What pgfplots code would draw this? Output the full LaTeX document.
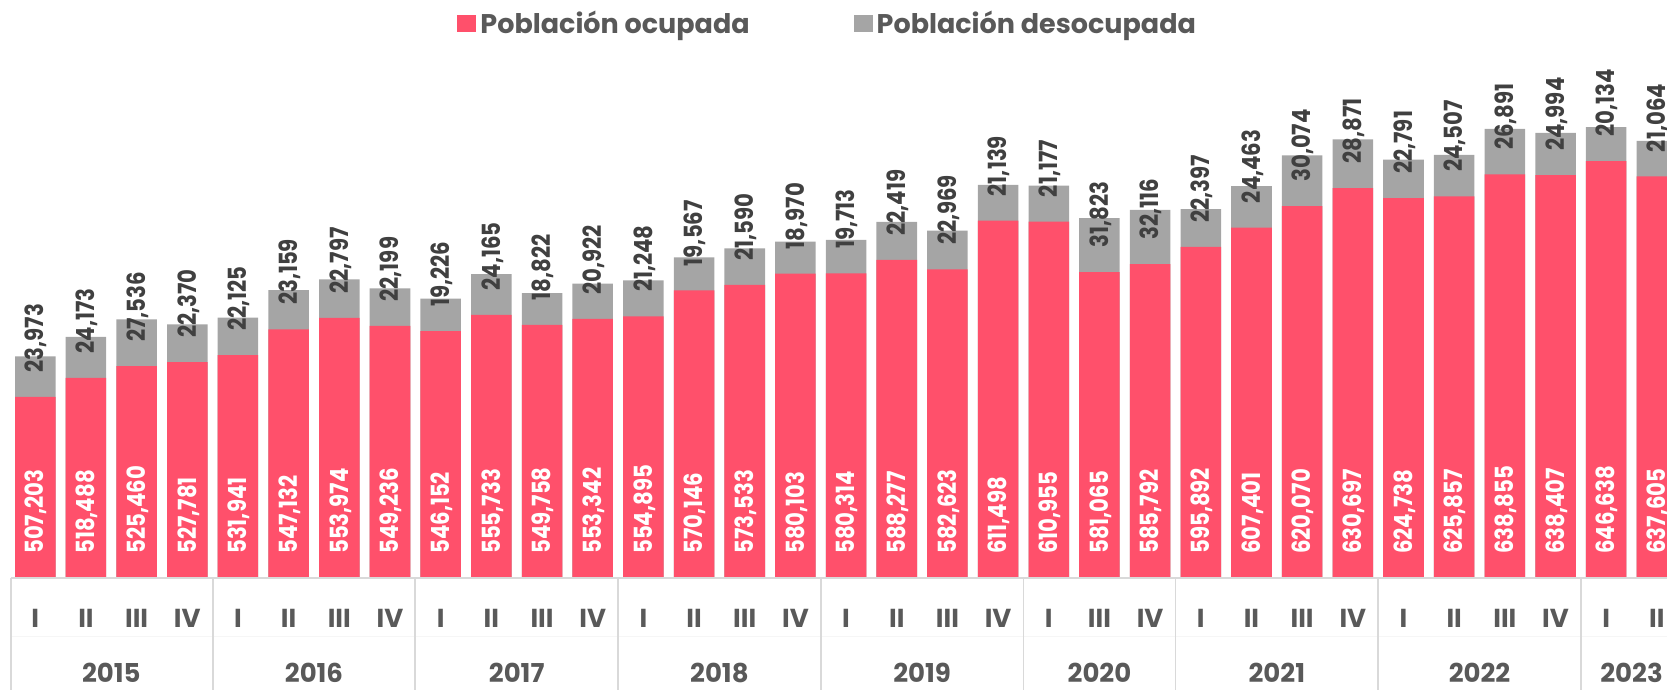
\documentclass[border=0pt]{standalone}
\usepackage{fontspec}
\setmainfont{Poppins}
\usepackage{graphicx}
\usepackage{pgfplots}
\usepackage{pgfplotstable}
\pgfplotsset{compat=1.18}
\definecolor{ocup}{RGB}{255,80,107}
\definecolor{desoc}{RGB}{165,165,165}
\definecolor{txt}{RGB}{89,89,89}
\definecolor{lbl}{RGB}{64,64,64}
\definecolor{gridc}{RGB}{217,217,217}
\definecolor{faint}{RGB}{246,246,246}

\pgfplotstableread{
x o d
0 507203 23973
1 518488 24173
2 525460 27536
3 527781 22370
4 531941 22125
5 547132 23159
6 553974 22797
7 549236 22199
8 546152 19226
9 555733 24165
10 549758 18822
11 553342 20922
12 554895 21248
13 570146 19567
14 573533 21590
15 580103 18970
16 580314 19713
17 588277 22419
18 582623 22969
19 611498 21139
20 610955 21177
21 581065 31823
22 585792 32116
23 595892 22397
24 607401 24463
25 620070 30074
26 630697 28871
27 624738 22791
28 625857 24507
29 638855 26891
30 638407 24994
31 646638 20134
32 637605 21064
}\data

\pgfplotsset{
  barlbl/.style={
    draw=none, mark=none,
    nodes near coords={\hspace*{4.5pt}\scalebox{0.85}[1]{\pgfmathprintnumber[fixed,precision=0,1000 sep={,},assume math mode=true]{\pgfplotspointmeta}}},
    point meta=explicit,
    every node near coord/.append style={rotate=90, anchor=west, inner xsep=7.5pt, inner ysep=0pt,
      text height=8.7pt, text depth=0pt, font=\bfseries\fontsize{12.5}{12.5}\selectfont, text=#1},
  },
}

\begin{document}
\begin{tikzpicture}
\begin{axis}[
  name=ax, scale only axis, width=828pt, height=289pt,
  xmin=-0.485, xmax=32.2, ymin=400000, ymax=742000,
  clip=false,
  axis line style={draw=none},
  ytick=\empty,
  xtick={0,...,32},
  xticklabels={I,II,III,IV,I,II,III,IV,I,II,III,IV,I,II,III,IV,I,II,III,IV,I,III,IV,I,II,III,IV,I,II,III,IV,I,II},
  major tick length=0pt,
  tick style={draw=none},
  xticklabel style={font=\bfseries\fontsize{13}{13}\selectfont, text=txt, anchor=center, yshift=-20pt},
  extra x ticks={1.5,5.5,9.5,13.5,17.5,21,24.5,28.5,31.5},
  extra x tick labels={2015,2016,2017,2018,2019,2020,2021,2022,2023},
  extra x tick style={xticklabel style={yshift=-27.5pt}},
  legend style={at={(0.2695,0.9585)}, anchor=west, draw=none, fill=none, inner sep=0pt,
    font=\bfseries\fontsize{13.5}{13.5}\selectfont, text=txt,
    /tikz/every even column/.append style={column sep=50pt}},
  legend columns=2, legend cell align=left,
  legend image code/.code={\fill[#1] (0pt,-4.25pt) rectangle (9.5pt,4.25pt);},
]
\addplot[ybar, bar width=0.8, bar shift=0pt, fill=desoc, draw=none, forget plot]
  table[x=x, y expr=\thisrow{o}+\thisrow{d}] {\data};
\addplot[ybar, bar width=0.8, bar shift=0pt, fill=ocup, draw=none]
  table[x=x, y=o] {\data};
\addlegendentry{Población ocupada}
\addlegendimage{fill=desoc, draw=none}
\addlegendentry{Población desocupada}
\addplot[barlbl=white, forget plot] table[x=x, y expr=400000, meta=o] {\data};
\addplot[barlbl=lbl, forget plot] table[x=x, y=o, meta=d] {\data};
\draw[faint, line width=0.6pt] (axis cs:-0.485,400000) ++(0pt,-29pt) -- ([yshift=-29pt]axis cs:32.2,400000);
\pgfplotsinvokeforeach{-0.485,3.5,7.5,11.5,15.5,19.5,22.5,26.5,30.5}{
  \draw[gridc, line width=0.9pt] (axis cs:#1,400000) -- ++(0pt,-56pt);
}
\draw[gridc, line width=1pt] (axis cs:-0.485,400000) -- (axis cs:32.2,400000);
\end{axis}
\pgfresetboundingbox
\path[use as bounding box] ([xshift=-5.35pt, yshift=-56pt]ax.south west) rectangle (ax.north east);
\end{tikzpicture}
\end{document}
